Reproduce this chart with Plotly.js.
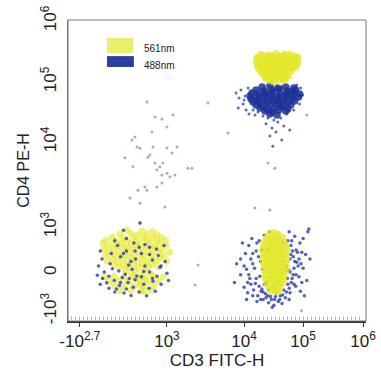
<!DOCTYPE html>
<html><head><meta charset="utf-8">
<script src="https://cdn.plot.ly/plotly-3.0.1.min.js"></script>
<style>html,body{margin:0;padding:0;background:#fff;}#chart{width:381px;height:381px;}</style>
</head><body><div id="chart"></div>
<script>
// ---- axis ticks (biexponential display) ----
const xTickValues = [-501, 1000, 1e4, 1e5, 1e6];
const xTickLabels = ['-10<sup>2.7</sup>', '10<sup>3</sup>', '10<sup>4</sup>', '10<sup>5</sup>', '10<sup>6</sup>'];
const yTickValues = [-1000, 0, 1000, 1e4, 1e5, 1e6];
const yTickLabels = ['-10<sup>3</sup>', '0', '10<sup>3</sup>', '10<sup>4</sup>', '10<sup>5</sup>', '10<sup>6</sup>'];
const seriesNames = ['561nm', '488nm'];

// ---- CD3 (x) / CD4 (y) events ----
// 561nm, CD3+CD4+ (upper right)
const uyX = [19400,23500,28500,34600,41800,50800,61600,72000, 17200,20900,25400,30700,37300,45300,54700,66500,80700, 16500,20200,24400,29600,36000,43400,52700,63900,77600, 17200,20900,25400,30700,37300,45300,54700,66500,77600, 17900,21700,26300,32000,38700,47000,57100,69200, 19400,23500,28500,34600,41800,50800,61600, 20900,25400,30700,37300,45300,54700, 23500,28500,34600,41800,50800, 26300,32000,38700,47000];
const uyY = [277000,262000,270000,283000,262000,277000,270000,262000, 249000,236000,243000,249000,236000,249000,243000,236000,249000, 213000,220000,205000,213000,220000,205000,213000,220000,213000, 190000,183000,197000,190000,183000,197000,190000,183000,190000, 169000,176000,163000,169000,176000,163000,169000,176000, 152000,146000,157000,152000,146000,157000,152000, 136000,141000,130000,136000,141000,130000, 121000,116000,125000,121000,116000, 108000,104000,112000,108000];
// 561nm halo events around the upper-right cluster
const uhX = [15300,87000,59300,25400,15900,80700,21700,63900,40300,29600,47000,34600];
const uhY = [253000,213000,310000,300000,169000,157000,108000,116000,93000,97000,310000,320000];
// 488nm, CD3+CD4+ core
const ubX = [20200,27300,37300,50800,69200, 15900,21700,29600,40300,54900,74700, 13600,17900,23500,30700,40300,52700,69200,87000, 12600,16500,21700,28500,37300,49000,63900,83800, 13100,17200,22500,29600,38700,50800,66500, 14200,18600,24400,32000,41800,54900,72000, 15900,20900,27300,36000,47000,61600, 18600,24400,32000,41800,54900, 22500,29600,38700,50800, 27300,36000];
const ubY = [82500,85800,79400,82500,79400, 73600,70800,73600,76400,70800,73600, 65500,63100,65500,68100,63100,65500,68100,63100, 58500,56200,58500,60700,56200,58500,60700,56200, 52100,50100,52100,54100,50100,52100,54100, 46400,44700,46400,48200,44700,46400,48200, 41300,39800,41300,43000,39800,41300, 36800,35400,36800,38300,35400, 32800,31600,34100,32800, 29300,28200];
// 488nm, CD3+CD4+ fringe
const ufX = [7870,8600,9100,9700,10400, 8400,10800,11700,10000,12100, 14200,15300,17200,20900,25400, 32000,41800,52700,69200,87000, 98000,90700,77600,23500,29600, 37300,47000,27300,34600,43400, 30700,59300];
const ufY = [65500,54100,73600,43000,58500, 36800,34100,79400,50100,29300, 34100,28200,31600,27100,25100, 23300,25100,29300,34100,43000, 60700,79400,89100,20000,17100, 21500,18500,12600,14700,10800, 8900,15800];
// sparse events
const spX = [655,793,1200,1000,448,741,482,758,1000,1350, 672,793,931,1000,914,1270,414,620,827,362, 965,1870,2110,3400,6190,534,2530,2310,25400,33200, 15300,27300,115000,94000,914,397,534,1160,707,879, 827,1094,275,914,655,500,534];
const spY = [46400,26100,28200,17800,12100,14700,8700,8700,8500,8700, 6600,5650,5650,4300,4100,4100,5100,2950,2950,2190, 1720,4900,4900,44700,14100,1115,174,-316,5650,4900, 1670,1590,28200,-990,24100,10800,8400,7400,7000,5100, 4700,3900,6500,3300,2700,2700,1900];
// 561nm, CD3-CD4- (lower left)
const llyX = [311,569,740, 190,380,500,650,820, 60,240,430,590,760,900, -50,120,310,470,660,830,975, -100,70,220,380,530,700,880, -20,150,310,480,640,790,990, -90,80,260,410,580,740,910, 10,190,350,520,680,850,1080, -60,110,280,440,600,760,940, 50,220,390,560,720,890, -30,150,320,490,650,810,1000, 80,250,420,590,750, 170,340,510,680,860, 280,450,620, 380,560,720, 470,620, 540,600, -80,90,260,430,600,770,940, 0,170,340,510,680,850, 90,260,430,600,770, 200,380,560,720];
const llyY = [935,913,900, 848,860,830,850,840, 780,770,790,760,775,780, 715,700,720,705,730,700,710, 650,640,660,645,630,655,640, 580,590,570,595,580,575,590, 520,510,530,515,505,525,510, 450,460,440,455,445,460,450, 390,380,395,385,375,390,380, 320,330,315,325,310,320, 260,250,265,255,245,260,255, 195,185,200,190,180, 120,130,115,125,130, 60,50,65, -20,-60,-40, -150,-180, -320,-480, -100,-90,-115,-95,-110,-85,-105, -220,-210,-235,-215,-230,-205, -340,-330,-355,-335,-350, -460,-450,-470,-455];
// 488nm, CD3-CD4- (lower left)
const llbX = [-150,-120,-180,-80,-200,-110, 40,20,60,0,90,-40, 150,200,170,230,180,130, 300,340,280,330,300,260, 430,460,400,450,420,380, 560,620,560,600,520, 700,750,700,760,690, 850,880,830,900,800, 970,1000,1050,950, 250,534, 100,300,520,700,250,450,620,820,380,900, 600,480,350,750,200,-150,0,650,100];
const llbY = [480,300,150,20,-60,-150, 420,200,90,-90,-200,-260, 600,350,40,-120,-330,-420, 480,170,-40,-250,-420,-530, 650,300,80,-180,-380,-590, 420,150,-100,-300,-500, 560,280,20,-220,-400, 380,120,-90,-300,-480, 250,-10,-200,600, 930,1115, 700,750,560,400,420,480,620,520,250,150, 30,-80,-150,-150,-250,-300,-400,-600,-500];
// 561nm, CD3+CD4- (lower right)
const lryX = [27000,32000,37000, 24000,28000,33000,39000,45000, 22000,26000,30000,35000,41000,48000, 21000,25000,29000,33000,38000,44000,52000, 21000,25000,29000,34000,39000,45000,53000, 21000,24000,28000,32000,37000,43000,51000, 21000,25000,29000,34000,39000,45000,53000, 21000,25000,29000,33000,38000,44000,51000, 22000,26000,30000,34000,39000,45000,52000, 22000,26000,30000,35000,40000,46000,52000, 23000,27000,31000,36000,41000,47000, 23000,27000,31000,36000,41000,47000, 24000,28000,33000,38000,44000, 26000,31000,36000,41000, 29000,34000,38000];
const lryY = [860,880,850, 770,750,780,760,770, 680,665,690,670,685,660, 590,575,600,580,595,570,585, 500,485,510,490,505,480,500, 410,395,415,400,420,395,410, 320,305,330,310,325,300,315, 230,215,240,220,235,210,225, 140,125,150,130,145,120,135, 50,35,60,40,55,30,45, -50,-65,-40,-60,-45,-70, -160,-175,-150,-170,-155,-180, -270,-285,-260,-280,-265, -380,-395,-370,-390, -480,-470,-490];
// 488nm, CD3+CD4- (lower right)
const lrbX = [8000,9000,7500,10500,11000,10000,12500,13000,12000,14500, 15000,16000,15500,17000,18000,19000,18500,20000,21000,22000, 23000,24000,26000,27000,28000,30000,32000,33000,35000,38000, 41000,44000,47000,50000,55000,60000,62000,65000,68000,70000, 72000,75000,80000,85000,88000,92000,95000,100000,110000,120000, 130000,115000,58000,52000,45000,48000,20500,17500,22000,25000, 55000,60000,66000,78000,90000,105000,13500,9500,125000,14000, 16500,19500,11500,23500,13000,26000,60000,70000,85000,64000, 76000,100000,58000, 9000,10000,11500,12000,14000,16000,18000,19000,21000,25000, 29000,34000,40000,45000,52000,58000,63000,68000,72000,76000, 82000,95000,62000,57000,54000,16500,20000,14000,11000,30000];
const lrbY = [200,-50,-250,420,80,-380,-150,300,600,-450, 100,480,-280,-600,700,250,-90,-420,-700,820, -550,-250,-780,900,-620,-400,-850,-700,-520,-750, -600,-800,-450,-650,-300,-520,600,-150,350,100, 800,-350,450,-100,650,200,-250,750,400,900, 300,-200,900,150,680,250,80,350,-300,500, 700,20,480,230,-480,-600,750,650,960,-600, -750,-480,-520,-650,-300,-450,300,-300,300,700, -50,100,-700, 300,150,-250,-50,200,-150,-350,-700,-500,-600, -700,-620,-700,-580,-500,-400,-250,-50,250,500, 150,450,400,50,-150,650,500,420,-700,-900];

// ---- biexponential-like display scale: anchor values -> display channel ----
const xScaleChannels = [40, 332, 591, 789, 990];
const yScaleChannels = [33, 160, 312, 595, 794, 997];
function makeScale(vals, chans) {
  return function (v) {
    let i = 0;
    while (i < vals.length - 2 && v > vals[i + 1]) i++;
    const a = vals[i], b = vals[i + 1];
    let t;
    if (a > 0) t = (Math.log10(v) - Math.log10(a)) / (Math.log10(b) - Math.log10(a));
    else t = (v - a) / (b - a);
    return chans[i] + t * (chans[i + 1] - chans[i]);
  };
}
const fx = makeScale(xTickValues, xScaleChannels);
const fy = makeScale(yTickValues, yScaleChannels);

const YEL = 'rgba(226,231,40,0.75)';
const BLU = 'rgba(28,48,150,0.85)';
function tr(xs, ys, size, color, name) {
  return { type: 'scatter', mode: 'markers', name: name, x: xs.map(fx), y: ys.map(fy),
    marker: { size: size, color: color, line: { width: 0 } }, hoverinfo: 'skip', showlegend: false };
}
const data = [
  tr(spX, spY, 3, 'rgba(80,90,150,0.5)', seriesNames[1]),
  tr(lrbX, lrbY, 3.5, 'rgba(40,60,170,0.8)', seriesNames[1]),
  tr(lryX, lryY, 7, YEL, seriesNames[0]),
  tr(llyX, llyY, 7, 'rgba(226,231,40,0.6)', seriesNames[0]),
  tr(llbX, llbY, 3.5, 'rgba(40,60,165,0.8)', seriesNames[1]),
  tr(ufX, ufY, 3, 'rgba(40,60,170,0.75)', seriesNames[1]),
  tr(ubX, ubY, 7.5, BLU, seriesNames[1]),
  tr(uhX, uhY, 4, 'rgba(230,234,90,0.5)', seriesNames[0]),
  tr(uyX, uyY, 8, YEL, seriesNames[0])
];

const FONT = '"Liberation Sans", Arial, sans-serif';
const layout = {
  width: 381, height: 381,
  margin: { l: 68, r: 15, t: 20, b: 60 },
  paper_bgcolor: '#fff', plot_bgcolor: '#fff', showlegend: false,
  font: { family: FONT, color: '#222' },
  xaxis: {
    range: [0, 1000], tickmode: 'array', tickvals: xTickValues.map(fx), ticktext: xTickLabels,
    ticks: 'outside', ticklen: 4, tickcolor: '#333', showline: true, linecolor: '#333', linewidth: 2,
    showgrid: false, zeroline: false, tickfont: { size: 17, family: FONT, color: '#222' },
    title: { text: 'CD3 FITC-H', font: { size: 17, family: FONT, color: '#222' }, standoff: 0 },
    fixedrange: true
  },
  yaxis: {
    range: [0, 1000], tickmode: 'array', tickvals: yTickValues.map(fy), ticktext: yTickLabels,
    tickangle: -90, ticks: '', showline: true, linecolor: '#777', linewidth: 1, ticklabelstandoff: 4,
    showgrid: false, zeroline: false, tickfont: { size: 17, family: FONT, color: '#222' },
    title: { text: 'CD4 PE-H', font: { size: 16, family: FONT, color: '#222' }, standoff: 4 },
    fixedrange: true
  },
  shapes: [
    { type: 'rect', xref: 'paper', yref: 'paper', x0: 0, x1: 1, y0: 0, y1: 1, line: { color: '#777', width: 1 } },
    { type: 'line', xref: 'paper', yref: 'paper', x0: 0.01, x1: 0.99, y0: 0.009, y1: 0.009, line: { color: '#aaa', width: 3, dash: '1px,3px' } },
    { type: 'rect', xref: 'paper', yref: 'paper', x0: 0.131, x1: 0.218, y0: 0.890, y1: 0.940, fillcolor: 'rgba(230,234,70,0.8)', line: { width: 0 } },
    { type: 'rect', xref: 'paper', yref: 'paper', x0: 0.131, x1: 0.221, y0: 0.844, y1: 0.880, fillcolor: 'rgb(40,62,160)', line: { width: 0 } }
  ],
  annotations: [
    { xref: 'paper', yref: 'paper', x: 0.248, y: 0.904, text: seriesNames[0], showarrow: false, xanchor: 'left', yanchor: 'middle', font: { size: 10, family: FONT, color: '#222' } },
    { xref: 'paper', yref: 'paper', x: 0.248, y: 0.850, text: seriesNames[1], showarrow: false, xanchor: 'left', yanchor: 'middle', font: { size: 10, family: FONT, color: '#222' } }
  ]
};
Plotly.newPlot('chart', data, layout, { staticPlot: true, displayModeBar: false });
</script>
</body></html>
